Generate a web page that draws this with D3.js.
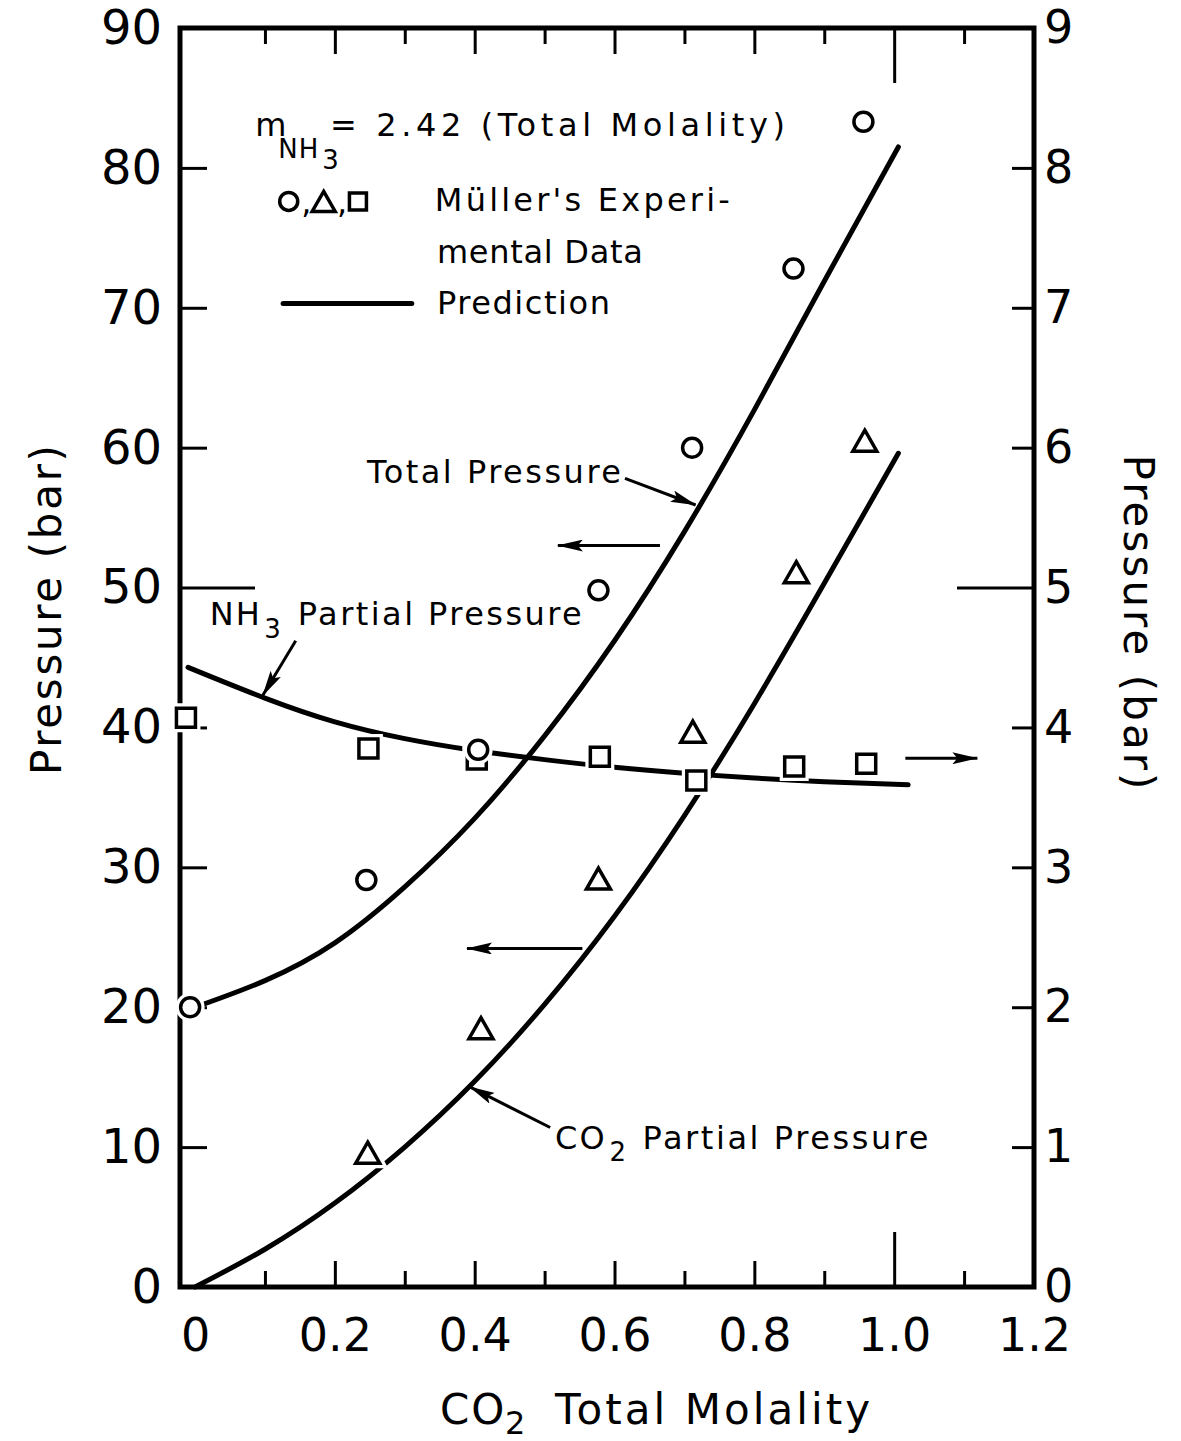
<!DOCTYPE html>
<html lang="en">
<head>
<meta charset="UTF-8">
<title>NH3-CO2 pressures vs CO2 molality</title>
<script src="https://d3js.org/d3.v7.min.js"></script>
<style>
  body { margin: 0; background: #fff; }
  svg { display: block; }
  text { font-family: "DejaVu Sans", sans-serif; fill: #000; }
  .frame { fill: none; stroke: #000; stroke-width: 5; }
  .curve { fill: none; stroke: #000; stroke-width: 5; stroke-linecap: round; }
  .tick line { stroke: #000; stroke-width: 3; }
  .mark { fill: #fff; stroke: #000; stroke-width: 3.5; }
  .halo { fill: #fff; stroke: #fff; stroke-width: 10; }
  .note { font-size: 32px; }
  .arrow { stroke: #000; stroke-width: 3; fill: none; }
</style>
</head>
<body>
<svg width="1181" height="1441"></svg>
<script>
// ticks and labels
const xTickVals = [0.1, 0.2, 0.3, 0.4, 0.5, 0.6, 0.7, 0.8, 0.9, 1.0, 1.1];
const xMajor = [0.2, 0.4, 0.6, 0.8, 1.0];
const xLabelVals = [0, 0.2, 0.4, 0.6, 0.8, 1.0, 1.2];
const xLabels = ["0", "0.2", "0.4", "0.6", "0.8", "1.0", "1.2"];
const yLeftVals = [0, 10, 20, 30, 40, 50, 60, 70, 80, 90];
const yRightVals = [0, 1, 2, 3, 4, 5, 6, 7, 8, 9];

// Müller's experimental data (x = CO2 total molality)
const totalX = [-0.007, 0.245, 0.405, 0.577, 0.711, 0.856, 0.956];
const totalP = [20.0, 29.1, 38.4, 49.8, 60.0, 72.8, 83.3];   // bar, left axis
const co2X = [0.247, 0.409, 0.577, 0.712, 0.86, 0.958];
const co2P = [9.6, 18.5, 29.2, 39.7, 51.1, 60.5];             // bar, left axis
const nh3X = [-0.013, 0.248, 0.403, 0.579, 0.717, 0.857, 0.96];
const nh3P = [4.07, 3.85, 3.77, 3.79, 3.62, 3.72, 3.74];      // bar, right axis

// prediction curves
const predX = [0, 0.1, 0.2, 0.3, 0.4, 0.5, 0.6, 0.7, 0.8, 0.9, 1.006];
const predTotal = [20.0, 21.9, 24.6, 28.6, 33.5, 39.4, 46.2, 54.0, 62.7, 71.9, 81.5];
const predCO2 = [0, 2.7, 6.0, 10.0, 14.7, 20.2, 26.5, 33.7, 41.7, 50.3, 59.6];
const predNH3X = [-0.01, 0.1, 0.2, 0.3, 0.4, 0.5, 0.6, 0.7, 0.8, 0.9, 1.02];
const predNH3 = [4.43, 4.21, 4.04, 3.92, 3.835, 3.77, 3.715, 3.672, 3.638, 3.612, 3.59];

const W = 1181, H = 1441;
const x = d3.scaleLinear().domain([-0.0215, 1.2]).range([180, 1034]);
const y = d3.scaleLinear().domain([0, 90]).range([1287, 28]);
const yR = d3.scaleLinear().domain([0, 9]).range([1287, 28]);

const svg = d3.select("svg");
svg.append("rect").attr("width", W).attr("height", H).attr("fill", "#fff");

svg.append("defs").append("marker").attr("id", "head")
    .attr("viewBox", "0 0 26 12").attr("refX", 25).attr("refY", 6)
    .attr("markerUnits", "userSpaceOnUse")
    .attr("markerWidth", 26).attr("markerHeight", 12)
    .attr("orient", "auto")
  .append("path").attr("d", "M0,0 L26,6 L0,12 L5,6 Z").attr("fill", "#000");

const FONT = '"DejaVu Sans", sans-serif';

// tick marks (inward)
const xLen = d => d === 1.0 ? 55 : (xMajor.includes(d) ? 26 : 16);
svg.append("g").attr("transform", `translate(0,${y(0)})`)
    .call(d3.axisBottom(x).tickValues(xTickVals).tickSize(0).tickFormat(""))
    .call(g => g.select(".domain").remove())
    .selectAll(".tick line").attr("y2", d => -xLen(d));
svg.append("g").attr("transform", `translate(0,${y(90)})`)
    .call(d3.axisTop(x).tickValues(xTickVals).tickSize(0).tickFormat(""))
    .call(g => g.select(".domain").remove())
    .selectAll(".tick line").attr("y2", d => xLen(d));
svg.append("g").attr("transform", `translate(${x(-0.0215)},0)`)
    .call(d3.axisLeft(y).tickValues(yLeftVals.slice(1, -1)).tickSize(0).tickFormat(""))
    .call(g => g.select(".domain").remove())
    .selectAll(".tick line").attr("x2", d => d === 50 ? 75 : 27);
svg.append("g").attr("transform", `translate(${x(1.2)},0)`)
    .call(d3.axisRight(yR).tickValues(yRightVals.slice(1, -1)).tickSize(0).tickFormat(""))
    .call(g => g.select(".domain").remove())
    .selectAll(".tick line").attr("x2", d => d === 5 ? -77 : -22);

// tick labels
const styleLabels = size => g => {
  g.select(".domain").remove();
  g.attr("font-family", FONT).attr("font-size", size);
  g.selectAll("text").attr("fill", "#000");
};
svg.append("g").attr("transform", `translate(0,${y(0)})`)
    .call(d3.axisBottom(x).tickValues(xLabelVals).tickSize(0).tickPadding(31)
      .tickFormat((d, i) => xLabels[i]))
    .call(styleLabels(46));
svg.append("g").attr("transform", `translate(${x(-0.0215)},0)`)
    .call(d3.axisLeft(y).tickValues(yLeftVals).tickSize(0).tickPadding(18).tickFormat(d3.format("d")))
    .call(styleLabels(48));
svg.append("g").attr("transform", `translate(${x(1.2)},0)`)
    .call(d3.axisRight(yR).tickValues(yRightVals).tickSize(0).tickPadding(10).tickFormat(d3.format("d")))
    .call(styleLabels(46));

// frame
svg.append("rect").attr("class", "frame")
    .attr("x", x(-0.0215)).attr("y", y(90))
    .attr("width", x(1.2) - x(-0.0215)).attr("height", y(0) - y(90));

// prediction curves
const line = (xs, ys, sc) => d3.line()
    .x((d, i) => x(xs[i])).y(d => sc(d))
    .curve(d3.curveNatural)(ys);
svg.append("path").attr("class", "curve").attr("d", line(predX, predTotal, y));
svg.append("path").attr("class", "curve").attr("d", line(predX, predCO2, y));
svg.append("path").attr("class", "curve").attr("d", line(predNH3X, predNH3, yR));

// experimental markers
const circlePath = (cx, cy, r) => `M${cx + r},${cy}A${r},${r} 0 1,1 ${cx - r},${cy}A${r},${r} 0 1,1 ${cx + r},${cy}Z`;
const squarePath = (cx, cy, s) => `M${cx - s / 2},${cy - s / 2}h${s}v${s}h${-s}Z`;
const triPath = (cx, cy, w, h) => `M${cx},${cy - h / 2}L${cx + w / 2},${cy + h / 2}L${cx - w / 2},${cy + h / 2}Z`;

const markLayer = svg.append("g");
function drawMarks(xs, ys, sc, shape) {
  const pts = xs.map((v, i) => [x(v), sc(ys[i])]);
  ["halo", "mark"].forEach(cls => {
    markLayer.selectAll(null).data(pts).enter().append("path")
      .attr("class", cls).attr("d", p => shape(p[0], p[1]));
  });
}
drawMarks(nh3X, nh3P, yR, (a, b) => squarePath(a, b, 19));
drawMarks(co2X, co2P, y, (a, b) => triPath(a, b, 24, 21));
drawMarks(totalX, totalP, y, (a, b) => circlePath(a, b, 9.5));

// annotations (placed in data units)
const note = (xv, yv, txt, len) => {
  const t = svg.append("text").attr("class", "note").attr("x", x(xv)).attr("y", y(yv)).text(txt);
  if (len) t.attr("textLength", len).attr("lengthAdjust", "spacing");
  return t;
};
const sub = (xv, yv, txt) => svg.append("text").attr("font-size", 26)
    .attr("x", x(xv)).attr("y", y(yv)).text(txt);
const arrow = (x1, y1, x2, y2) => svg.append("line").attr("class", "arrow")
    .attr("x1", x(x1)).attr("y1", y(y1)).attr("x2", x(x2)).attr("y2", y(y2))
    .attr("marker-end", "url(#head)");

// legend block
note(0.086, 82.3, "m");
sub(0.119, 80.7, "NH").attr("letter-spacing", 1);
sub(0.182, 79.9, "3");
note(0.193, 82.3, "= 2.42 (Total Molality)", 455);

const lx = [0.134, 0.184, 0.233];
svg.append("path").attr("class", "mark").attr("stroke-width", 3)
    .attr("d", circlePath(x(lx[0]), y(77.6), 9));
svg.append("path").attr("class", "mark").attr("stroke-width", 3)
    .attr("d", triPath(x(lx[1]), y(77.6), 23, 20));
svg.append("path").attr("class", "mark").attr("stroke-width", 3)
    .attr("d", squarePath(x(lx[2]), y(77.6), 17));
note(0.152, 76.8, ",");
note(0.203, 76.8, ",");
note(0.343, 76.9, "Müller's Experi-", 295);
note(0.346, 73.2, "mental Data", 206);
svg.append("line").attr("class", "curve")
    .attr("x1", x(0.126)).attr("x2", x(0.31)).attr("y1", y(70.3)).attr("y2", y(70.3));
note(0.346, 69.55, "Prediction", 173);

// curve labels
note(0.246, 57.5, "Total Pressure", 254);
arrow(0.615, 57.8, 0.716, 55.9);
arrow(0.665, 53.0, 0.519, 53.0);

note(0.021, 47.3, "NH").attr("letter-spacing", 2);
sub(0.099, 46.4, "3");
note(0.147, 47.3, "Partial Pressure", 284);
arrow(0.144, 46.2, 0.097, 42.3);

arrow(1.016, 37.8, 1.119, 37.8);
arrow(0.554, 24.2, 0.389, 24.2);

note(0.515, 9.9, "CO").attr("letter-spacing", 2);
sub(0.593, 9.0, "2");
note(0.640, 9.9, "Partial Pressure", 286);
arrow(0.508, 11.4, 0.393, 14.3);

// axis titles
svg.append("text").attr("transform", "translate(61,610) rotate(-90)")
    .attr("text-anchor", "middle").attr("font-size", 42)
    .attr("textLength", 330).attr("lengthAdjust", "spacing")
    .text("Pressure (bar)");
svg.append("text").attr("transform", "translate(1124,622) rotate(90)")
    .attr("text-anchor", "middle").attr("font-size", 42)
    .attr("textLength", 335).attr("lengthAdjust", "spacing")
    .text("Pressure (bar)");
svg.append("text").attr("x", 440).attr("y", 1424).attr("font-size", 42)
    .attr("letter-spacing", 2).text("CO");
svg.append("text").attr("x", 505).attr("y", 1434).attr("font-size", 32).text("2");
svg.append("text").attr("x", 555).attr("y", 1424).attr("font-size", 42)
    .attr("textLength", 315).attr("lengthAdjust", "spacing").text("Total Molality");
</script>
</body>
</html>
